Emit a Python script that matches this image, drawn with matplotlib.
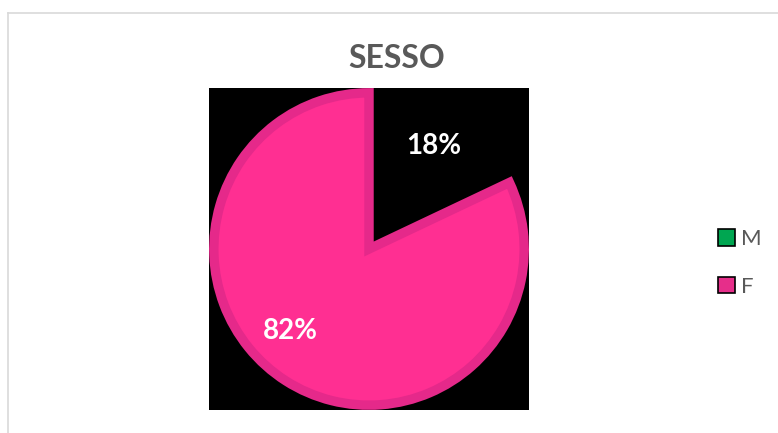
import matplotlib.pyplot as plt
from matplotlib.patches import Patch
from matplotlib.lines import Line2D

# data
categories = ['M', 'F']
shares = [18, 82]
legend_colors = ['#00A651', '#E62E8A']

pie_fill = '#FF2F92'
pie_edge = '#E5298A'
grey = '#595959'

plt.rcParams['font.family'] = ['Lato', 'DejaVu Sans']

fig = plt.figure(figsize=(7.78, 4.33), dpi=100)

# chart frame (left and top border only)
frame_y = 1 - 13 / 433
frame_x = 8 / 778
fig.add_artist(Line2D([frame_x, 1], [frame_y, frame_y], color='#D9D9D9', lw=1.2))
fig.add_artist(Line2D([frame_x, frame_x], [0, frame_y], color='#D9D9D9', lw=1.2))

# plot area with black background
ax = fig.add_axes([209 / 778, 23 / 433, 320 / 778, 322 / 433])

wedges, texts, autotexts = ax.pie(
    shares, startangle=90, counterclock=False, radius=0.97, frame=True,
    colors=['black', pie_fill], autopct='%1.0f%%', pctdistance=0.78,
    wedgeprops=dict(edgecolor=pie_edge, linewidth=6.8, joinstyle='miter'),
    textprops=dict(color='white', fontsize=20, fontweight='bold'))
wedges[0].set_edgecolor('none')

ax.set_facecolor('black')
ax.set_aspect('auto')
ax.set_xlim(-1, 1)
ax.set_ylim(-1, 1)
ax.set_xticks([])
ax.set_yticks([])
for s in ax.spines.values():
    s.set_visible(False)

# nudge the F label the way the spreadsheet places it
autotexts[1].set_position((-0.49, -0.51))

fig.text(397 / 778, 1 - 58 / 433, 'SESSO', ha='center', va='center',
         fontsize=23, fontweight='bold', color=grey)

handles = [Patch(facecolor=c, edgecolor='black', linewidth=1.2) for c in legend_colors]
leg = fig.legend(handles, categories, loc='center left',
                 bbox_to_anchor=(707 / 778, 1 - 263 / 433), frameon=False,
                 fontsize=16, handlelength=0.75, handleheight=0.75,
                 handletextpad=0.3, labelspacing=1.25, borderpad=0)
for t in leg.get_texts():
    t.set_color(grey)

fig.savefig('out.png', dpi=100)
